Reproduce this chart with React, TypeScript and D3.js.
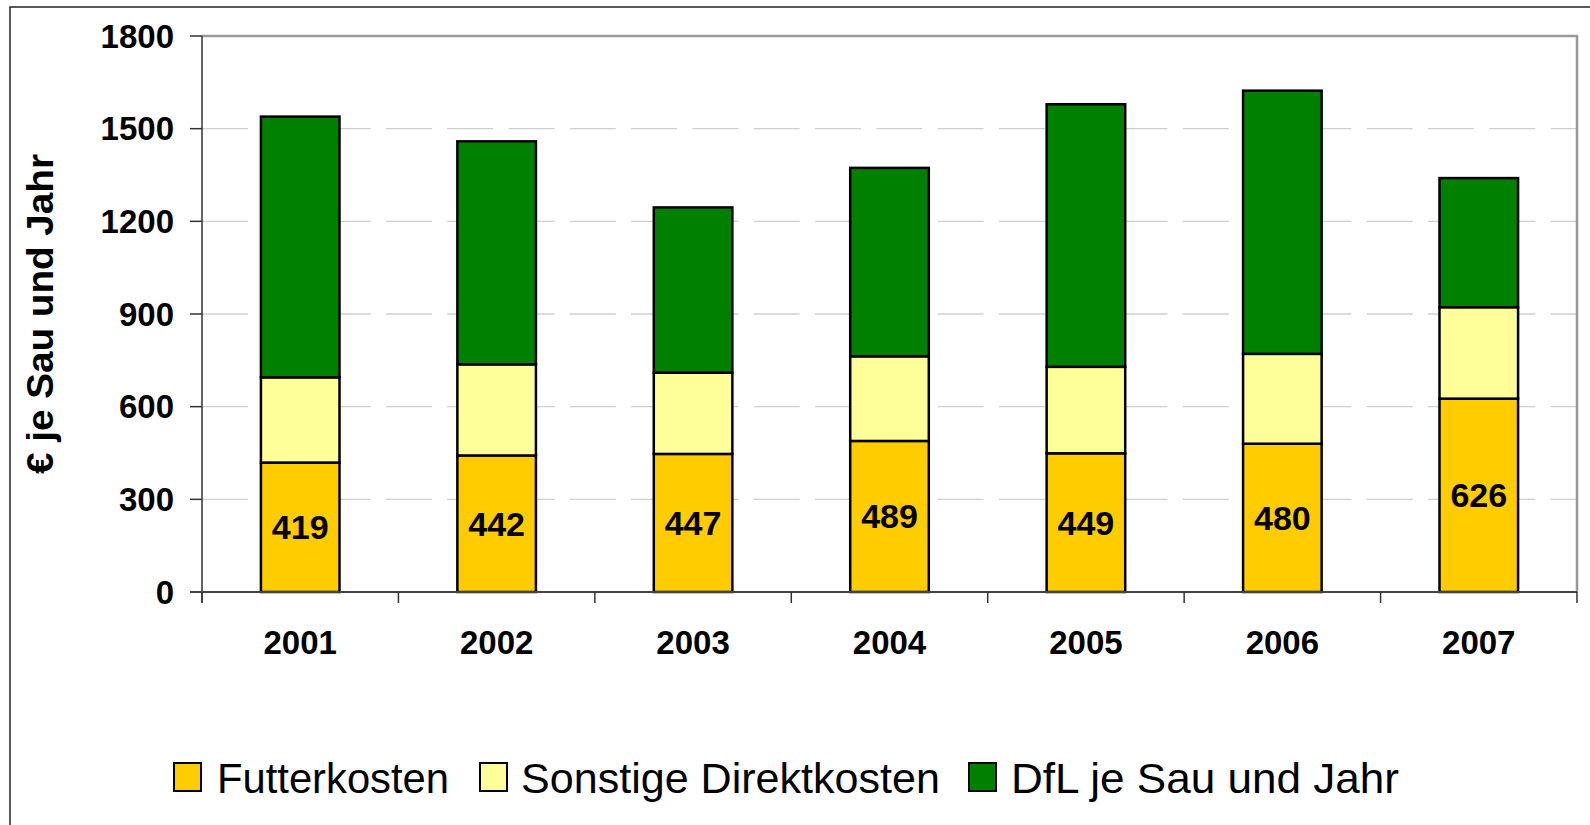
import React from "react";
import * as d3 from "d3";

const years = ["2001", "2002", "2003", "2004", "2005", "2006", "2007"];
const futterkosten = [419, 442, 447, 489, 449, 480, 626];
const sonstigeDirektkosten = [276, 295, 263, 274, 280, 291, 296];
const dflJeSau = [844, 722, 535, 610, 850, 852, 418];
const yTicks = [0, 300, 600, 900, 1200, 1500, 1800];

const seriesKeys = ["futter", "sonstige", "dfl"];
const seriesNames = ["Futterkosten", "Sonstige Direktkosten", "DfL je Sau und Jahr"];
const seriesColors = ["#FFCC00", "#FFFF99", "#008000"];

const W = 1590;
const H = 825;
const plot = { left: 202, right: 1577, top: 36, bottom: 592 };
const font = "Arial, 'Liberation Sans', sans-serif";

export default function App() {
  // rows for d3.stack
  const rows = years.map((y, i) => ({
    year: y,
    futter: futterkosten[i],
    sonstige: sonstigeDirektkosten[i],
    dfl: dflJeSau[i],
  }));
  const stacked = d3.stack<any>().keys(seriesKeys)(rows);

  const x = d3
    .scaleBand()
    .domain(years)
    .range([plot.left, plot.right])
    .paddingInner(0.6)
    .paddingOuter(0.3);
  // categories without padding, for the tick marks between years
  const xCat = d3.scaleBand().domain(years).range([plot.left, plot.right]);
  const y = d3.scaleLinear().domain([0, 1800]).range([plot.bottom, plot.top]);

  const boundaries = years.map((d) => xCat(d) as number).concat([plot.right]);

  // legend layout
  const legendBoxX = [174, 480, 969];
  const legendTextX = [217, 521, 1011];
  const legendTextW = [232, 419, 388];
  const legendY = 777;

  return (
    <svg
      width={W}
      height={H}
      style={{ position: "absolute", left: 0, top: 0, background: "#fff" }}
      fontFamily={font}
    >
      {/* outer frame */}
      <rect x={10} y={7} width={W} height={H} fill="#fff" stroke="#222" strokeWidth={1.5} />

      {/* gridlines */}
      {yTicks
        .filter((t) => t > 0 && t < 1800)
        .map((t) => (
          <line
            key={"g" + t}
            x1={plot.left}
            x2={plot.right}
            y1={y(t)}
            y2={y(t)}
            stroke="#cfcfcf"
            strokeWidth={1.3}
            strokeDasharray="46,15.3"
          />
        ))}

      {/* plot area top/right border */}
      <polyline
        points={`${plot.left},${plot.top} ${plot.right},${plot.top} ${plot.right},${plot.bottom}`}
        fill="none"
        stroke="#999"
        strokeWidth={2.5}
      />

      {/* bars */}
      {stacked.map((s, si) =>
        s.map((d, i) => (
          <rect
            key={si + "-" + i}
            x={x(years[i])}
            y={y(d[1])}
            width={x.bandwidth()}
            height={y(d[0]) - y(d[1])}
            fill={seriesColors[si]}
            stroke="#000"
            strokeWidth={2.5}
          />
        ))
      )}

      {/* value labels for Futterkosten */}
      {stacked[0].map((d, i) => (
        <text
          key={"v" + i}
          x={(x(years[i]) as number) + x.bandwidth() / 2}
          y={y((d[0] + d[1]) / 2)}
          textAnchor="middle"
          dominantBaseline="central"
          fontSize={34}
          fontWeight="bold"
          fill="#000"
        >
          {futterkosten[i]}
        </text>
      ))}

      {/* y axis */}
      <line x1={plot.left} x2={plot.left} y1={plot.top} y2={plot.bottom + 10} stroke="#333" strokeWidth={1.5} />
      {yTicks.map((t) => (
        <g key={"y" + t}>
          <line x1={plot.left - 12} x2={plot.left} y1={y(t)} y2={y(t)} stroke="#333" strokeWidth={1.5} />
          <text
            x={174}
            y={y(t)}
            textAnchor="end"
            dominantBaseline="central"
            fontSize={33}
            fontWeight="bold"
            fill="#000"
          >
            {t}
          </text>
        </g>
      ))}

      {/* x axis */}
      <line x1={plot.left - 12} x2={plot.right} y1={plot.bottom} y2={plot.bottom} stroke="#444" strokeWidth={2} />
      {boundaries.map((b, i) => (
        <line key={"xt" + i} x1={b} x2={b} y1={plot.bottom} y2={plot.bottom + 11} stroke="#333" strokeWidth={1.5} />
      ))}
      {years.map((yr) => (
        <text
          key={"xl" + yr}
          x={(xCat(yr) as number) + xCat.bandwidth() / 2}
          y={654}
          textAnchor="middle"
          fontSize={33}
          fontWeight="bold"
          fill="#000"
        >
          {yr}
        </text>
      ))}

      {/* y axis title */}
      <text
        transform={`translate(53,${(plot.top + plot.bottom) / 2}) rotate(-90)`}
        textAnchor="middle"
        fontSize={36}
        fontWeight="bold"
        fill="#000"
        textLength={320}
        lengthAdjust="spacingAndGlyphs"
      >
        € je Sau und Jahr
      </text>

      {/* legend */}
      {seriesNames.map((n, i) => (
        <g key={"l" + i}>
          <rect
            x={legendBoxX[i]}
            y={legendY - 14}
            width={27}
            height={28}
            fill={seriesColors[i]}
            stroke="#000"
            strokeWidth={2}
          />
          <text
            x={legendTextX[i]}
            y={legendY + 16}
            fontSize={42}
            fill="#000"
            textLength={legendTextW[i]}
            lengthAdjust="spacingAndGlyphs"
          >
            {n}
          </text>
        </g>
      ))}
    </svg>
  );
}
